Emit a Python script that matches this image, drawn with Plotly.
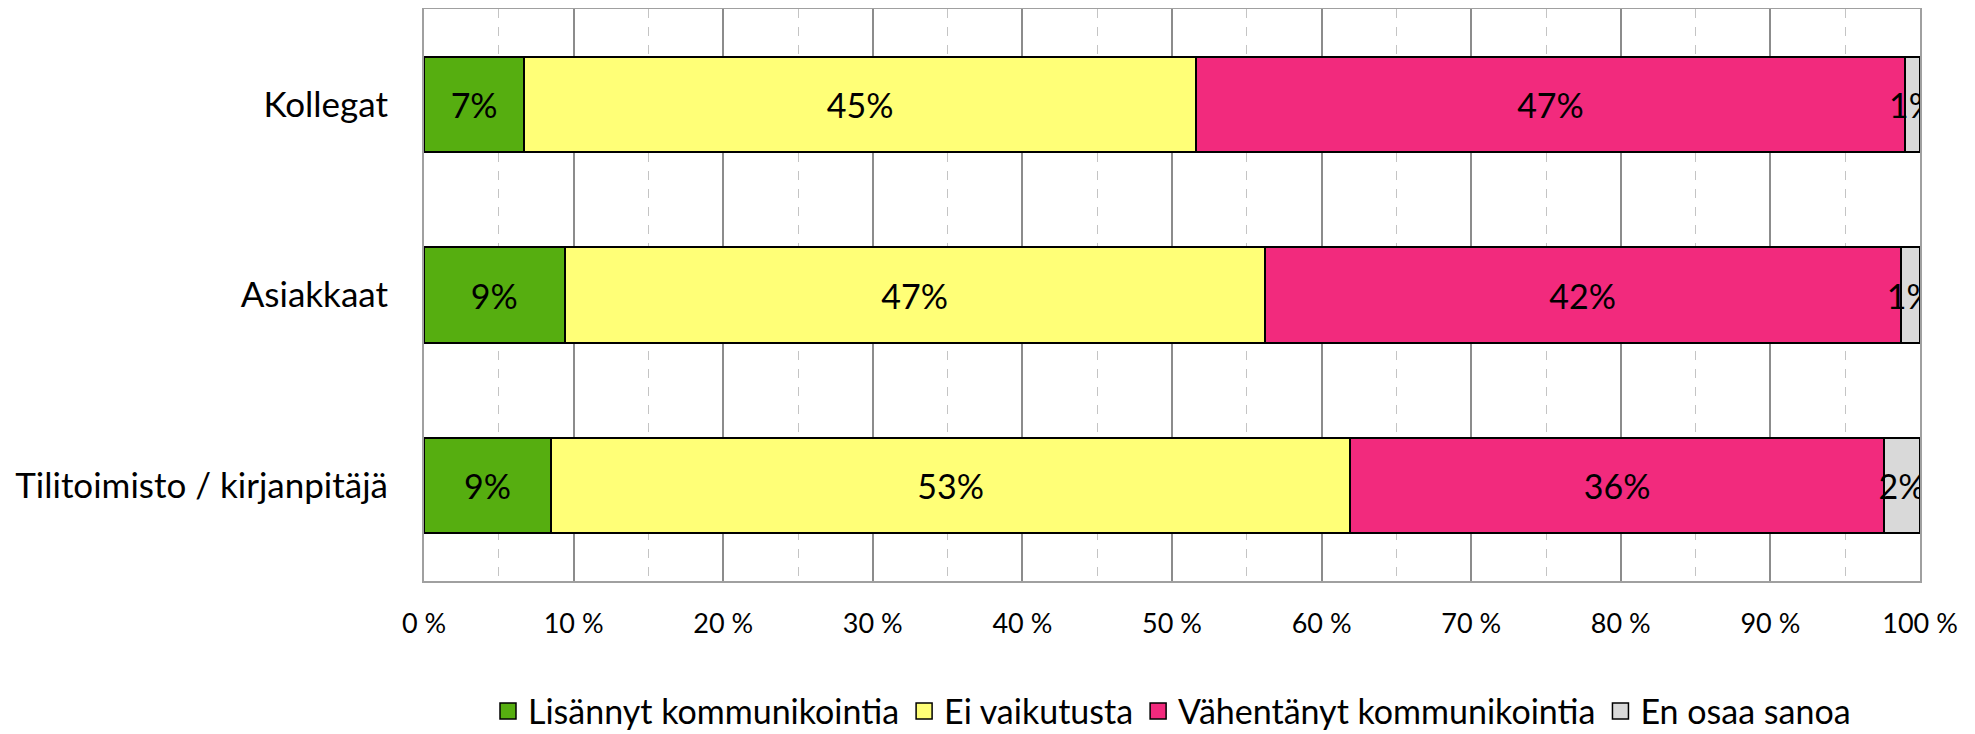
import plotly.graph_objects as go

categories = ["Kollegat", "Asiakkaat", "Tilitoimisto / kirjanpitäjä"]
series_names = ["Lisännyt kommunikointia", "Ei vaikutusta", "Vähentänyt kommunikointia", "En osaa sanoa"]
lisannyt = [6.7, 9.4, 8.5]
ei_vaikutusta = [44.9, 46.8, 53.4]
vahentanyt = [47.4, 42.5, 35.7]
en_osaa = [1.0, 1.3, 2.4]
label_lisannyt = ["7%", "9%", "9%"]
label_ei = ["45%", "47%", "53%"]
label_vah = ["47%", "42%", "36%"]
label_en = ["1%", "1%", "2%"]
tick_vals = [0, 10, 20, 30, 40, 50, 60, 70, 80, 90, 100]
tick_text = ["0 %", "10 %", "20 %", "30 %", "40 %", "50 %", "60 %", "70 %", "80 %", "90 %", "100 %"]

colors = ["#56AE10", "#FFFF77", "#F22A7D", "#D9D9D9"]
values = [lisannyt, ei_vaikutusta, vahentanyt, en_osaa]
labels = [label_lisannyt, label_ei, label_vah, label_en]

FONT = "Lato"

fig = go.Figure()
for name, vals, lab, col in zip(series_names, values, labels, colors):
    fig.add_trace(go.Bar(
        name=name, y=categories, x=vals, orientation="h",
        text=lab, textposition="inside", insidetextanchor="middle",
        textangle=0, texttemplate="%{text}",
        textfont=dict(family=FONT, size=34, color="black"),
        marker=dict(color=col, line=dict(color="black", width=2)),
        hoverinfo="skip", showlegend=False,
    ))
# legend entries (square swatches)
for name, col in zip(series_names, colors):
    fig.add_trace(go.Scatter(
        name=name, x=[None], y=[None], mode="markers",
        marker=dict(symbol="square", size=16, color=col, line=dict(color="black", width=1.5)),
        showlegend=True, hoverinfo="skip",
    ))

# page body has an 8px default margin: compensate so the plot lands where the reference has it
fig.update_layout(
    barmode="stack",
    bargap=0.5,
    width=1967, height=726,
    margin=dict(l=416, r=55, t=1, b=153, autoexpand=False),
    paper_bgcolor="white", plot_bgcolor="white",
    font=dict(family=FONT, color="black"),
    uniformtext=dict(minsize=34, mode="show"),
    legend=dict(orientation="h", x=0.5, xanchor="center", y=-0.228, yanchor="middle",
                font=dict(family=FONT, size=34), traceorder="normal",
                itemsizing="trace", itemwidth=30),
    showlegend=True,
)
fig.update_xaxes(
    range=[0, 100], tickvals=tick_vals, ticktext=tick_text,
    tickfont=dict(family=FONT, size=27),
    showgrid=True, gridcolor="#8c8c8c", gridwidth=1.5,
    minor=dict(dtick=5, showgrid=True, gridcolor="#c4c4c4", griddash="dash", gridwidth=1.2),
    showline=True, linecolor="#a0a0a0", linewidth=2, mirror=True,
    ticks="", ticklabelstandoff=18, zeroline=False, automargin=False,
)
fig.update_yaxes(
    autorange="reversed",
    tickfont=dict(family=FONT, size=35),
    showline=True, linecolor="#a0a0a0", linewidth=2, mirror=True,
    ticks="", ticklabelstandoff=27, showgrid=False, automargin=False,
)

fig.write_html("out.html")
